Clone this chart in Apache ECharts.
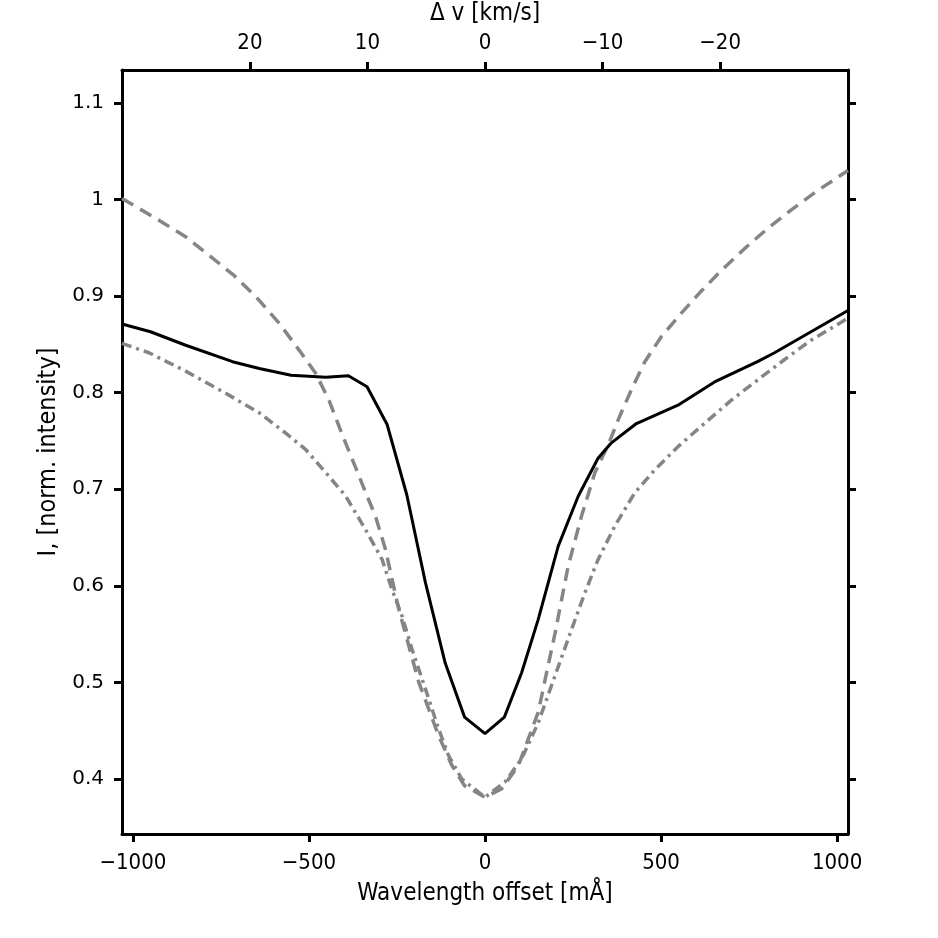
<!DOCTYPE html>
<html>
<head>
<meta charset="utf-8">
<script src="https://cdn.jsdelivr.net/npm/echarts@6/dist/echarts.min.js"></script>
<style>
  html, body { margin: 0; padding: 0; background: #fff; }
  #main { width: 938px; height: 938px; }
</style>
</head>
<body>
<div id="main"></div>
<script>
// wavelength offset [mÅ] and normalised intensity
const solidX = [-1031, -950, -850, -717, -641, -551, -452, -388, -335, -278, -222, -169, -113, -58, 0, 55, 104, 151, 208, 265, 321, 359, 430, 548, 652, 774, 821, 1031];
const solidY = [0.871, 0.863, 0.849, 0.832, 0.825, 0.818, 0.816, 0.8175, 0.806, 0.767, 0.694, 0.603, 0.520, 0.464, 0.447, 0.464, 0.510, 0.565, 0.641, 0.693, 0.732, 0.748, 0.768, 0.787, 0.811, 0.832, 0.841, 0.885];

const dashX = [-1031, -924, -849, -783, -712, -650, -585, -528, -481, -443, -405, -367, -335, -311, -283, -245, -188, -132, -94, -58, 0, 48, 95, 151, 199, 236, 274, 312, 350, 383, 416, 454, 501, 557, 614, 670, 737, 803, 869, 944, 1031];
const dashY = [1.001, 0.978, 0.961, 0.942, 0.921, 0.899, 0.872, 0.844, 0.820, 0.792, 0.756, 0.722, 0.693, 0.672, 0.638, 0.576, 0.500, 0.445, 0.414, 0.393, 0.381, 0.390, 0.414, 0.469, 0.551, 0.620, 0.672, 0.717, 0.746, 0.776, 0.803, 0.832, 0.858, 0.882, 0.905, 0.926, 0.949, 0.970, 0.989, 1.009, 1.030];

const dotDashX = [-1031, -953, -849, -735, -641, -566, -509, -452, -396, -339, -292, -264, -236, -207, -169, -132, -103, -66, 0, 57, 104, 151, 199, 246, 284, 321, 369, 425, 482, 548, 623, 699, 774, 850, 925, 1031];
const dotDashY = [0.851, 0.841, 0.822, 0.799, 0.779, 0.758, 0.741, 0.717, 0.693, 0.658, 0.627, 0.596, 0.569, 0.534, 0.493, 0.452, 0.424, 0.400, 0.381, 0.397, 0.421, 0.458, 0.507, 0.555, 0.593, 0.627, 0.662, 0.696, 0.720, 0.744, 0.768, 0.792, 0.813, 0.834, 0.854, 0.877];

const xTicks = [-1000, -500, 0, 500, 1000];
const vTicks = [20, 10, 0, -10, -20];
const yTicks = [0.4, 0.5, 0.6, 0.7, 0.8, 0.9, 1.0, 1.1];

const pairs = (xs, ys) => xs.map((x, i) => [x, ys[i]]);

const narrow = "'DejaVu Sans Condensed', 'Liberation Sans Narrow', 'DejaVu Sans', sans-serif";
const axisLine = { show: true, onZero: false, lineStyle: { color: '#000', width: 3 } };
const tick = { show: true, inside: false, length: 8, lineStyle: { color: '#000', width: 3 } };
const minus = v => String(v).replace('-', '\u2212');

const chart = echarts.init(document.getElementById('main'));
chart.setOption({
  animation: false,
  backgroundColor: '#fff',
  grid: { left: 122, right: 90, top: 70, bottom: 104, outerBoundsMode: 'none' },
  xAxis: [
    {
      type: 'value', position: 'bottom', min: -1031, max: 1031,
      axisLine, axisTick: { ...tick, customValues: xTicks },
      splitLine: { show: false },
      axisLabel: {
        customValues: xTicks, margin: 18, color: '#000',
        fontSize: 22, fontFamily: narrow, formatter: minus
      },
      name: 'Wavelength offset [mÅ]', nameLocation: 'middle', nameGap: 48,
      nameTextStyle: { fontSize: 24, fontFamily: narrow, color: '#000' }
    },
    {
      type: 'value', position: 'top', inverse: true, min: -30.88, max: 30.88,
      axisLine, axisTick: { ...tick, customValues: vTicks },
      splitLine: { show: false },
      axisLabel: {
        customValues: vTicks, margin: 16, color: '#000',
        fontSize: 22, fontFamily: narrow, formatter: minus
      },
      name: '\u0394 v [km/s]', nameLocation: 'middle', nameGap: 44,
      nameTextStyle: { fontSize: 24, fontFamily: narrow, color: '#000' }
    }
  ],
  yAxis: [
    {
      type: 'value', position: 'left', min: 0.343, max: 1.134,
      axisLine, axisTick: { ...tick, customValues: yTicks },
      splitLine: { show: false },
      axisLabel: {
        customValues: yTicks, margin: 18, color: '#000',
        fontSize: 20, fontFamily: "'DejaVu Sans', sans-serif",
        formatter: v => String(Number(v.toFixed(1)))
      },
      name: 'I, [norm. intensity]', nameLocation: 'middle', nameGap: 58,
      nameTextStyle: { fontSize: 25, fontFamily: narrow, color: '#000' }
    },
    {
      type: 'value', position: 'right', min: 0.343, max: 1.134,
      axisLine, axisTick: { ...tick, customValues: yTicks },
      splitLine: { show: false },
      axisLabel: { show: false }
    }
  ],
  series: [
    {
      type: 'line', data: pairs(dashX, dashY), showSymbol: false,
      lineStyle: { color: '#858585', width: 3.5, type: [13, 8] }
    },
    {
      type: 'line', data: pairs(dotDashX, dotDashY), showSymbol: false,
      lineStyle: { color: '#858585', width: 3.5, type: [10, 5, 3, 5] }
    },
    {
      type: 'line', data: pairs(solidX, solidY), showSymbol: false,
      lineStyle: { color: '#000', width: 3 }
    }
  ]
});
</script>
</body>
</html>
